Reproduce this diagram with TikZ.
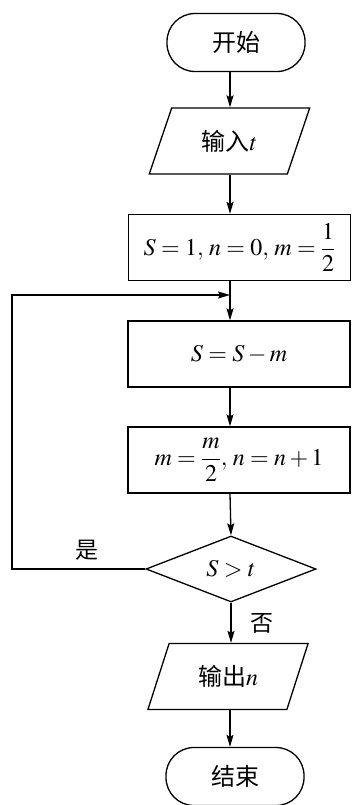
\documentclass[tikz,border=0pt]{standalone}
\usepackage{mathptmx}
\usepackage{fontspec}
\newfontfamily\cjk{Noto Sans CJK SC}
\usetikzlibrary{shapes.geometric,arrows.meta}
\tikzset{
  base/.style={draw, line width=1.3pt, inner sep=0pt, font=\fontsize{24}{28}\selectfont},
  term/.style={base, rectangle, rounded corners=28pt, minimum width=138pt, minimum height=58pt},
  proc/.style={base, rectangle, minimum width=222pt, minimum height=66pt},
  io/.style={base, trapezium, trapezium left angle=64, trapezium right angle=116,
             trapezium stretches=true, minimum width=161pt, minimum height=66pt},
  dec/.style={base, diamond, aspect=2.5, minimum width=170pt, minimum height=66pt},
  lab/.style={inner sep=0pt, font=\fontsize{23}{27}\selectfont\cjk},
  arr/.style={line width=1.3pt, -{Stealth[length=12pt,width=7pt,inset=2pt]}},
  ln/.style={line width=1.3pt}
}
\begin{document}
\begin{tikzpicture}[x=1pt,y=-1pt]
\useasboundingbox (0,0) rectangle (352,805);
\coordinate (ax) at (230,0);
\node[term] (start) at (236,42.5) {\cjk 开始};
\node[io] (in) at (229.5,141) {\cjk 输入$t$};
\node[proc] (p1) at (239.5,247.5) {$\displaystyle S=1,\,n=0,\,m=\frac{1}{2}$};
\coordinate (join) at (230,295);
\node[proc] (p2) at (239,354) {$S=S-m$};
\node[proc] (p3) at (239,460) {$\displaystyle m=\frac{m}{2},\,n=n+1$};
\node[dec] (d) at (231,569) {$S>t$};
\node[io] (out) at (228,676.5) {\cjk 输出$n$};
\node[term] (end) at (235,776.5) {\cjk 结束};
\coordinate (lc) at (12,569);
\node[lab] (yes) at (87,550) {是};
\node[lab] (no) at (262,623) {否};
\draw[arr] (start.south -| ax) -- (in.north -| ax);
\draw[arr] (in.south -| ax) -- (p1.north -| ax);
\draw[ln] (p1.south -| ax) -- (join);
\draw[arr] (join) -- (p2.north -| ax);
\draw[arr] (p2.south -| ax) -- (p3.north -| ax);
\draw[arr] (p3.south -| ax) -- (d.north);
\draw[arr] (d.south) -- (out.north -| d.south);
\draw[arr] (out.south -| ax) -- (end.north -| ax);
\draw[arr] (d.west) -- (lc) |- (join);
\end{tikzpicture}
\end{document}
